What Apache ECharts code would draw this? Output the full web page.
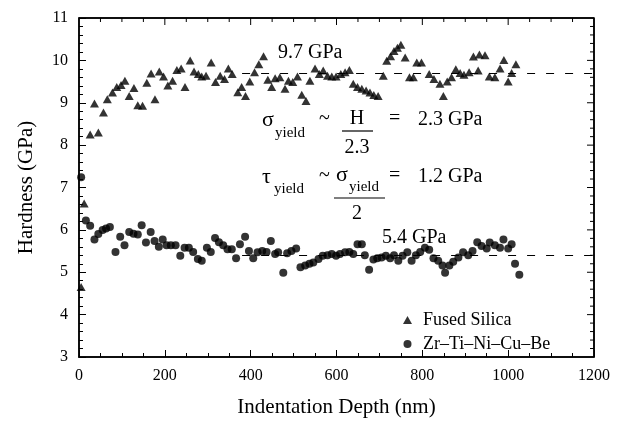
<!DOCTYPE html>
<html>
<head>
<meta charset="utf-8">
<script src="https://cdn.jsdelivr.net/npm/echarts@6/dist/echarts.min.js"></script>
<style>html,body{margin:0;padding:0;background:#fff}#c{width:623px;height:423px}</style>
</head>
<body>
<div id="c"></div>
<script>
// Fused silica (triangles): depth (nm) and hardness (GPa)
const silicaX = [5,12,26,36,45,57,66,78,88,98,107,117,128,137,148,158,168,177,187,197,207,218,228,238,247,259,268,278,286,296,308,318,329,339,348,357,370,379,388,398,409,419,430,440,449,457,468,480,488,498,509,519,529,538,550,560,569,579,589,599,610,620,630,639,649,659,669,678,687,697,709,717,726,734,742,750,760,770,779,787,798,816,827,841,849,858,868,878,888,897,909,919,930,933,946,956,969,981,990,1000,1008,1018];
const silicaY = [4.65,6.62,8.25,8.98,8.3,8.77,9.08,9.24,9.37,9.42,9.52,9.16,9.35,8.94,8.93,9.47,9.69,9.08,9.74,9.62,9.41,9.52,9.77,9.81,9.37,10.0,9.74,9.68,9.62,9.64,9.95,9.49,9.64,9.56,9.81,9.68,9.25,9.37,9.16,9.5,9.72,9.91,10.1,9.54,9.37,9.58,9.6,9.33,9.52,9.49,9.62,9.19,9.04,9.52,9.81,9.68,9.76,9.64,9.62,9.62,9.68,9.72,9.77,9.45,9.37,9.33,9.29,9.24,9.18,9.16,9.64,9.99,10.1,10.22,10.3,10.37,10.07,9.6,9.6,9.95,9.95,9.68,9.56,9.45,9.16,9.5,9.6,9.79,9.7,9.66,9.72,10.09,9.76,10.14,10.12,9.62,9.6,9.81,10.01,9.5,9.7,9.91];
// Zr-Ti-Ni-Cu-Be (circles)
const bmgX = [5,16,26,36,45,55,63,72,85,96,106,117,127,137,146,156,167,176,186,195,204,214,225,236,246,256,266,277,286,298,307,317,326,336,346,356,366,375,387,396,406,416,427,437,447,457,464,476,485,495,506,516,527,537,546,558,568,579,589,599,608,620,630,639,649,659,666,676,686,695,705,715,725,734,744,754,765,775,785,795,806,816,826,837,847,853,863,872,884,895,907,917,928,938,950,957,969,981,989,1000,1008,1016,1026];
const bmgY = [7.24,6.22,6.1,5.77,5.9,6.0,6.03,6.07,5.48,5.84,5.64,5.95,5.91,5.89,6.11,5.7,5.95,5.74,5.6,5.77,5.64,5.64,5.64,5.39,5.58,5.58,5.48,5.31,5.27,5.58,5.48,5.81,5.71,5.64,5.54,5.54,5.33,5.66,5.84,5.5,5.33,5.47,5.5,5.48,5.74,5.43,5.47,4.99,5.45,5.5,5.56,5.12,5.16,5.2,5.23,5.31,5.39,5.4,5.43,5.39,5.43,5.47,5.48,5.43,5.66,5.66,5.4,5.06,5.3,5.33,5.35,5.39,5.33,5.4,5.27,5.39,5.47,5.27,5.4,5.48,5.58,5.53,5.33,5.27,5.16,4.99,5.16,5.25,5.35,5.47,5.4,5.5,5.71,5.62,5.56,5.7,5.64,5.58,5.77,5.56,5.66,5.2,4.94];
// Reference hardness lines (GPa) and their depth span (nm)
const refLevels = [9.7, 5.4];
const refSpan = [380, 1200];
const seriesNames = ['Fused Silica', 'Zr\u2013Ti\u2013Ni\u2013Cu\u2013Be'];
const xTicks = {min: 0, max: 1200, interval: 200, minorSplit: 4};
const yTicks = {min: 3, max: 11, interval: 1, minorSplit: 5};

const FONT = "'Liberation Serif', 'DejaVu Serif', serif";
const chart = echarts.init(document.getElementById('c'), null, {renderer: 'canvas'});

function mkAxis(kind, extra) {
  const t = kind === 'x' ? xTicks : yTicks;
  const a = {
    type: 'value', min: t.min, max: t.max, interval: t.interval,
    axisLine: {show: true, lineStyle: {color: '#000', width: 1.5}},
    axisTick: {show: true, inside: true, length: 7, lineStyle: {color: '#000', width: 1}},
    minorTick: {show: true, splitNumber: t.minorSplit, length: 4, lineStyle: {color: '#000', width: 1}},
    splitLine: {show: false},
    axisLabel: {color: '#000', fontFamily: FONT, fontSize: 16, margin: 11,
      formatter: function (v) { return String(v); }}
  };
  return Object.assign(a, extra || {});
}

const zip = (xs, ys) => xs.map((x, i) => [x, ys[i]]);
const mkLine = (lvl) => ({
  silent: true, symbol: 'none', animation: false,
  label: {show: false},
  lineStyle: {color: '#000', width: 1, type: [8, 11]},
  data: [[{coord: [refSpan[0], lvl]}, {coord: [refSpan[1], lvl]}]]
});

const txt = (s, x, y, size, align) => ({
  type: 'text', x: x, y: y, silent: true, z: 10,
  style: {text: s, font: size + 'px ' + FONT, fill: '#000', textAlign: align || 'left', textVerticalAlign: 'middle'}
});
const seg = (x1, y1, x2, y2, w) => ({
  type: 'line', silent: true, z: 10, shape: {x1: x1, y1: y1, x2: x2, y2: y2}, style: {stroke: '#000', lineWidth: w || 1.2}
});
const bar = (x1, x2, y) => seg(x1, y, x2, y, 1.2);

const annotations = [
  txt('9.7 GPa', 278, 53, 20),
  txt('5.4 GPa', 382, 238, 20),
  // sigma_yield ~ H/2.3 = 2.3 GPa
  txt('\u03c3', 262, 120, 22),
  txt('yield', 275, 133, 15),
  txt('~', 319, 119, 20),
  txt('H', 357, 119, 20, 'center'),
  bar(342, 373, 131),
  txt('2.3', 357, 148, 20, 'center'),
  txt('=', 389, 119, 20),
  txt('2.3 GPa', 418, 120, 20),
  // tau_yield ~ sigma_yield/2 = 1.2 GPa
  txt('\u03c4', 262, 177, 22),
  txt('yield', 274, 189, 15),
  txt('~', 319, 176, 20),
  txt('\u03c3', 336, 175, 22),
  txt('yield', 349, 187, 15),
  bar(334, 385, 198),
  txt('2', 357, 214, 20, 'center'),
  txt('=', 389, 176, 20),
  txt('1.2 GPa', 418, 177, 20)
];

const gridBox = {left: 79, right: 29, top: 18, bottom: 60};

chart.setOption({
  animation: false,
  grid: Object.assign({show: true, borderColor: '#000', borderWidth: 1.5, backgroundColor: 'rgba(0,0,0,0)'}, gridBox),
  xAxis: mkAxis('x', {name: 'Indentation Depth (nm)', nameLocation: 'middle', nameGap: 40,
    nameTextStyle: {color: '#000', fontFamily: FONT, fontSize: 21}}),
  yAxis: mkAxis('y', {name: 'Hardness (GPa)', nameLocation: 'middle', nameGap: 42,
    nameTextStyle: {color: '#000', fontFamily: FONT, fontSize: 21}}),
  legend: {
    orient: 'vertical', left: 398, top: 306, itemWidth: 9, itemHeight: 8, itemGap: 6,
    textStyle: {color: '#000', fontFamily: FONT, fontSize: 18, padding: [0, 0, 0, 6]},
    data: seriesNames
  },
  series: [
    {name: seriesNames[0], type: 'scatter', symbol: 'triangle', symbolSize: [9, 8],
     itemStyle: {color: '#000'}, data: zip(silicaX, silicaY), markLine: mkLine(refLevels[0])},
    {name: seriesNames[1], type: 'scatter', symbol: 'circle', symbolSize: 8,
     itemStyle: {color: '#000'}, data: zip(bmgX, bmgY), markLine: mkLine(refLevels[1])}
  ],
  graphic: annotations
});

// Mirrored top and right frame edges with inward ticks, positioned through the chart's own scales
function px(x, y) {
  let p = null;
  try { p = chart.convertToPixel({seriesIndex: 0}, [x, y]); } catch (e) { p = null; }
  if (!p || !isFinite(p[0]) || !isFinite(p[1])) {
    try { p = chart.convertToPixel({xAxisIndex: 0, yAxisIndex: 0}, [x, y]); } catch (e) { p = null; }
  }
  if (!p || !isFinite(p[0]) || !isFinite(p[1])) {
    const W = chart.getWidth() - gridBox.left - gridBox.right;
    const H = chart.getHeight() - gridBox.top - gridBox.bottom;
    p = [gridBox.left + (x - xTicks.min) / (xTicks.max - xTicks.min) * W,
         gridBox.top + (yTicks.max - y) / (yTicks.max - yTicks.min) * H];
  }
  return p;
}
const frame = [];
const tl = px(xTicks.min, yTicks.max), tr = px(xTicks.max, yTicks.max), br = px(xTicks.max, yTicks.min);
frame.push(seg(tl[0], tl[1], tr[0], tr[1], 1.5));
frame.push(seg(tr[0], tr[1], br[0], br[1], 1.5));
const xStep = xTicks.interval / xTicks.minorSplit;
for (let i = 1; xTicks.min + i * xStep < xTicks.max - 1e-9; i++) {
  const p = px(xTicks.min + i * xStep, yTicks.max);
  const len = (i % xTicks.minorSplit === 0) ? 7 : 4;
  frame.push(seg(p[0], p[1], p[0], p[1] + len, 1));
}
const yStep = yTicks.interval / yTicks.minorSplit;
for (let i = 1; yTicks.min + i * yStep < yTicks.max - 1e-9; i++) {
  const p = px(xTicks.max, yTicks.min + i * yStep);
  const len = (i % yTicks.minorSplit === 0) ? 7 : 4;
  frame.push(seg(p[0] - len, p[1], p[0], p[1], 1));
}
chart.setOption({graphic: annotations.concat(frame)});
</script>
</body>
</html>
